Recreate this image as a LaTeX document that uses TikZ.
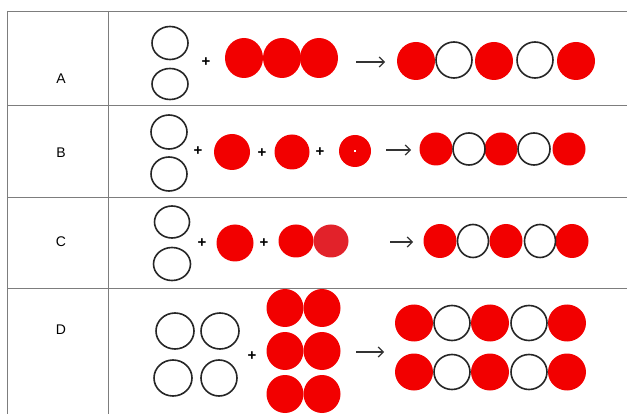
\documentclass[tikz,border=0pt]{standalone}
\usepackage{fontspec}
\setmainfont{Liberation Sans}
\usetikzlibrary{shapes.geometric,arrows.meta}
\definecolor{ballred}{RGB}{242,0,0}
\definecolor{ballredB}{RGB}{226,34,42}
\definecolor{rulegray}{RGB}{125,125,125}
\tikzset{
  redball/.style 2 args={ellipse, fill=ballred, inner sep=0pt, minimum width=#1pt, minimum height=#2pt},
  whiteball/.style 2 args={ellipse, draw=black!85, line width=1.6pt, fill=white, inner sep=0pt, minimum width=#1pt, minimum height=#2pt},
  plussign/.style={font=\fontsize{15}{15}\selectfont\bfseries, inner sep=0pt},
  rowlabel/.style={font=\fontsize{14}{16}\selectfont},
  rxn/.style={-{Straight Barb[length=5pt,width=10pt]}, line width=1.2pt, draw=black!80},
  tablerule/.style={draw=rulegray, line width=0.9pt}
}
\begin{document}
\begin{tikzpicture}[x=1pt, y=-1pt]
  \useasboundingbox (0,0) rectangle (627,414);
  % table
  \draw[tablerule] (7,11) -- (627,11);
  \foreach \y in {105,197,288} \draw[tablerule] (7,\y) -- (627,\y);
  \draw[tablerule] (7,11) -- (7,414);
  \draw[tablerule] (108,11) -- (108,414);
  % row labels
  \node[rowlabel] (labA) at (61,79) {A};
  \node[rowlabel] (labB) at (61,153) {B};
  \node[rowlabel] (labC) at (61,242) {C};
  \node[rowlabel] (labD) at (61,330) {D};

  % row A
  \node[whiteball={36}{33}] (aO1) at (170,43) {};
  \node[whiteball={36}{31}] (aO2) at (170,84) {};
  \node[plussign] (aPlus) at (206,62) {+};
  \foreach \x [count=\i] in {244,282,319} \node[redball={38}{40}] (aR\i) at (\x,58) {};
  \coordinate (aArrS) at (356,62);
  \coordinate (aArrE) at (385,62);
  \draw[rxn] (aArrS) -- (aArrE);
  \foreach \x [count=\i] in {416,494,576} \node[redball={38}{38}] (aP\i) at (\x,61) {};
  \foreach \x [count=\i] in {454,535} \node[whiteball={36}{36}] (aQ\i) at (\x,60) {};

  % row B
  \node[whiteball={36}{34}] (bO1) at (169,132) {};
  \node[whiteball={36}{34}] (bO2) at (169,174) {};
  \node[plussign] (bPlus1) at (198,151) {+};
  \node[redball={36}{36}] (bR1) at (232,152) {};
  \node[plussign] (bPlus2) at (262,153) {+};
  \node[redball={35}{35}] (bR2) at (292,152) {};
  \node[plussign] (bPlus3) at (320,152) {+};
  \node[redball={32}{32}] (bR3) at (355,151) {};
  \node[fill=white, inner sep=0pt, minimum size=2.5pt] (bDot) at (bR3) {};
  \coordinate (bArrS) at (386,150);
  \coordinate (bArrE) at (411,150);
  \draw[rxn] (bArrS) -- (bArrE);
  \foreach \x [count=\i] in {436,501,569} \node[redball={33}{33}] (bP\i) at (\x,149) {};
  \foreach \x [count=\i] in {469,534} \node[whiteball={32}{32}] (bQ\i) at (\x,149) {};

  % row C
  \node[whiteball={35}{32}] (cO1) at (172,222) {};
  \node[whiteball={37}{33}] (cO2) at (172,264) {};
  \node[plussign] (cPlus1) at (202,243) {+};
  \node[redball={37}{37}] (cR1) at (235,243) {};
  \node[plussign] (cPlus2) at (264,243) {+};
  \node[redball={35}{33}] (cR2) at (296,241) {};
  \node[redball={35}{33}, fill=ballredB] (cR3) at (331,241) {};
  \coordinate (cArrS) at (390,242);
  \coordinate (cArrE) at (413,242);
  \draw[rxn] (cArrS) -- (cArrE);
  \foreach \x [count=\i] in {440,506,572} \node[redball={33}{34}] (cP\i) at (\x,241) {};
  \foreach \x [count=\i] in {473,540} \node[whiteball={31}{33}] (cQ\i) at (\x,241) {};

  % row D
  \node[whiteball={38}{36}] (dO1) at (175,331) {};
  \node[whiteball={38}{36}] (dO2) at (220,331) {};
  \node[whiteball={38}{36}] (dO3) at (173,378) {};
  \node[whiteball={36}{36}] (dO4) at (219,378) {};
  \node[plussign] (dPlus) at (252,356) {+};
  \foreach \y [count=\i] in {308,351,394} {
    \node[redball={37}{38}] (dRL\i) at (285,\y) {};
    \node[redball={37}{38}] (dRR\i) at (322,\y) {};
  }
  \coordinate (dArrS) at (356,352);
  \coordinate (dArrE) at (384,352);
  \draw[rxn] (dArrS) -- (dArrE);
  \foreach \y [count=\j] in {323,372} {
    \foreach \x [count=\i] in {414,490,567} \node[redball={38}{37}] (dP\j\i) at (\x,\y) {};
    \foreach \x [count=\i] in {452,529} \node[whiteball={36}{35}] (dQ\j\i) at (\x,\y) {};
  }
\end{tikzpicture}
\end{document}
